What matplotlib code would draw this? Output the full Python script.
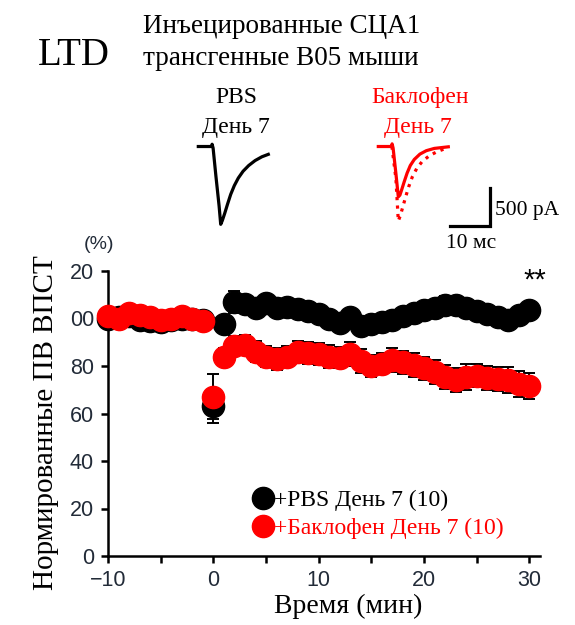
import matplotlib
matplotlib.use("Agg")
import matplotlib.pyplot as plt
from matplotlib.lines import Line2D

# time points (min)
times = list(range(-10, 31))

# normalized EPSC amplitude (%), PBS day 7
pbs_vals = [100, 100.5, 101, 99.5, 99, 98.5, 99.5, 100, 100, 99.5,
            63, 97.5, 107, 106, 104.5, 106.5, 104.5, 105, 104, 103,
            102, 100, 98, 100.5, 97, 97.5, 98.5, 99.5, 101, 102.5,
            103.5, 104.5, 105.5, 105.5, 104.5, 103, 102, 100.5, 99.5, 101.5, 103.5]
pbs_err = [2, 2, 2, 2, 2, 2, 2, 2, 2, 2,
           7, 3.5, 4.5, 3.5, 3, 3, 3, 3, 3, 3,
           3, 3, 3, 3, 3, 3, 3, 3, 3, 3,
           3, 3, 4, 3.5, 3, 3, 3, 3, 3, 3, 3]

# baclofen day 7
bac_vals = [101, 100, 102.5, 101.5, 100.5, 99.5, 100, 101, 100, 99,
            67, 84, 88.5, 89, 86, 84, 83, 84, 86, 85.5,
            85, 84, 83.5, 85, 82, 80, 81, 82.5, 81.5, 80.5,
            79, 77.5, 75.5, 74, 75.5, 76, 75, 74.5, 74, 72.5, 71.5]
bac_err = [2, 2, 2, 2, 2, 2, 2, 2, 2, 2,
           9.5, 3.5, 4, 4, 4.5, 4.5, 4.5, 4.5, 4.5, 4.5,
           4.5, 5, 4.5, 5, 5, 4.5, 4.5, 5, 5, 5,
           5, 5, 5, 5, 5.5, 5, 5, 5, 5.5, 5.5, 5.5]

y_ticks = [0, 20, 40, 60, 80, 100, 120]
y_tick_labels = ['0', '20', '40', '60', '80', '00', '20']
x_ticks = [-10, 0, 10, 20, 30]
x_tick_labels = ['\u221210', '0', '10', '20', '30']

# example EPSC traces (ms, pA)
pbs_trace_t = [0, 3.35, 3.45, 3.7, 4.4, 5.2, 5.6, 6.0, 6.6, 7.3, 8.1, 9.0, 10.0,
               11.2, 12.6, 14.2, 15.9, 17.5]
pbs_trace_i = [0, 0, 30, -20, -388, -783, -1024, -975, -880, -760, -630, -515, -415,
               -325, -250, -185, -135, -103]
bac_trace_t = [0, 3.35, 3.45, 3.7, 4.4, 5.0, 5.4, 5.9, 6.5, 7.2, 8.0, 9.0, 10.4,
               12.0, 14.0, 17.5]
bac_trace_i = [0, 0, 35, -20, -355, -662, -640, -560, -460, -350, -250, -170, -100,
               -55, -25, -4]
bac_dot_t = [3.4, 4.4, 5.0, 5.5, 6.1, 6.8, 7.6, 8.5, 9.6, 11.0, 12.8, 14.8, 17.5]
bac_dot_i = [0, -421, -979, -910, -800, -670, -530, -400, -290, -195, -120, -65, -13]

SERIF = 'Liberation Serif'
SANS = 'Liberation Sans'
TICKC = '#222b38'
RED = '#ff0000'

fig = plt.figure(figsize=(5.75, 6.25), dpi=100)
W, H = 575, 625


def fx(px):
    return px / W


def fy(py):
    return 1 - py / H


ax = fig.add_axes([fx(108), fy(556), (540 - 108) / W, (556 - 271) / H])

ax.errorbar(times, pbs_vals, yerr=pbs_err, fmt='o', color='black', ecolor='black',
            ms=16, elinewidth=1.4, capsize=4, capthick=1.4, clip_on=False, zorder=3)
ax.errorbar(times, bac_vals, yerr=bac_err, fmt='o', color=RED, mec=RED, ecolor='black',
            ms=16, elinewidth=1.4, capsize=4, capthick=1.4, clip_on=False, zorder=4)

ax.set_xlim(-10, 31)
ax.set_ylim(0, 120)
ax.set_xticks(x_ticks)
ax.set_xticklabels(x_tick_labels, family=SANS, fontsize=15.5, color=TICKC)
ax.set_xticks([-5, 5, 15, 25], minor=True)
ax.set_yticks(y_ticks)
ax.set_yticklabels(y_tick_labels, family=SANS, fontsize=15.5, color=TICKC)
ax.tick_params(which='both', direction='out', length=5, width=1.8, pad=5)
for s in ['top', 'right']:
    ax.spines[s].set_visible(False)
for s in ['left', 'bottom']:
    ax.spines[s].set_linewidth(1.8)

handles = [Line2D([], [], marker='o', ls='', color='black', ms=16),
           Line2D([], [], marker='o', ls='', color=RED, ms=16)]
ax.legend(handles, ['+PBS День 7 (10)', '+Баклофен День 7 (10)'],
          loc='upper left', bbox_to_anchor=(0.305, 0.265), frameon=False,
          handletextpad=-0.15, handlelength=1.2, labelspacing=0.25,
          borderaxespad=0, prop={'family': SERIF, 'size': 17},
          labelcolor=['black', RED])

fig.text(fx(348), fy(606), 'Время (мин)', family=SERIF, fontsize=20,
         ha='center', va='center')
fig.text(fx(46), fy(423), 'Нормированные ПВ ВПСТ', family=SERIF, fontsize=21,
         ha='center', va='center', rotation=90)
fig.text(fx(99), fy(244), '(%)', family=SANS, fontsize=14, color=TICKC,
         ha='center', va='center')
fig.text(fx(535), fy(281), '**', family=SANS, fontsize=21,
         ha='center', va='center')

# titles
fig.text(fx(38), fy(65), 'LTD', family=SERIF, fontsize=28, ha='left', va='baseline')
fig.text(fx(143), fy(33), 'Инъецированные СЦА1', family=SERIF, fontsize=19.5,
         ha='left', va='baseline')
fig.text(fx(143), fy(65), 'трансгенные В05 мыши', family=SERIF, fontsize=19.5,
         ha='left', va='baseline')
fig.text(fx(236), fy(103), 'PBS', family=SERIF, fontsize=17, ha='center', va='baseline')
fig.text(fx(236), fy(133), 'День 7', family=SERIF, fontsize=17, ha='center', va='baseline')
fig.text(fx(420), fy(103), 'Баклофен', family=SERIF, fontsize=17, color=RED,
         ha='center', va='baseline')
fig.text(fx(418), fy(133), 'День 7', family=SERIF, fontsize=17, color=RED,
         ha='center', va='baseline')

# traces inset
tx = fig.add_axes([fx(190), fy(232), 320 / W, 94 / H])
tx.set_xlim(-2.075, 77.925)
tx.set_ylim(-1125, 112)
tx.axis('off')
tx.plot(pbs_trace_t, pbs_trace_i, color='black', lw=2.3, solid_joinstyle='round')
bac_offset = 45
tx.plot([t + bac_offset for t in bac_dot_t], bac_dot_i, color=RED, lw=2.3, ls=':')
tx.plot([t + bac_offset for t in bac_trace_t], bac_trace_i, color=RED, lw=2.3,
        solid_joinstyle='round')
# scale bar 10 ms / 500 pA
tx.plot([62.9, 72.9, 72.9], [-1045, -1045, -545], color='black', lw=2.3,
        solid_joinstyle='miter')
fig.text(fx(495), fy(210), '500 pA', family=SERIF, fontsize=15.5, ha='left', va='center')
fig.text(fx(446), fy(243), '10 мс', family=SERIF, fontsize=15.5, ha='left', va='center')

fig.savefig('out.png', dpi=100)
